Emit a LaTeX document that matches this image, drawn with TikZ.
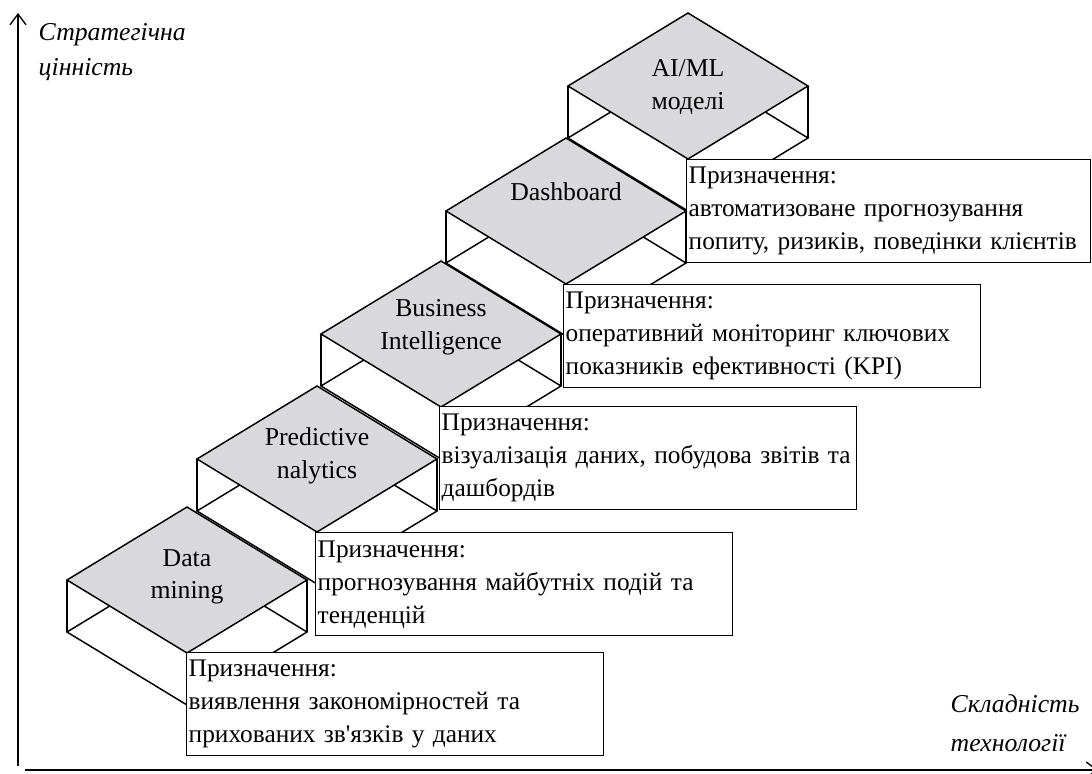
\documentclass[tikz,border=0pt]{standalone}
\usepackage{fontspec}
\setmainfont{Liberation Serif}
\usetikzlibrary{arrows.meta}
\definecolor{topgray}{RGB}{217,217,219}
\newcommand{\boxline}[1]{\mbox{#1}}
\begin{document}
\begin{tikzpicture}[x=0.75pt,y=-0.75pt,line width=1.1pt,
  sideline/.style={draw=black},
  topface/.style={draw=black,fill=topgray},
  steplabel/.style={font=\fontsize{19.3}{24.5}\selectfont,align=center,inner sep=0pt},
  infobox/.style={draw=black,fill=white,anchor=north west,font=\fontsize{19}{24.75}\selectfont,align=left,inner xsep=1.5pt,inner ysep=0pt,minimum height=77.25pt,text width=309.75pt},
  axislabel/.style={font=\fontsize{19.3}{24}\selectfont\itshape,anchor=base west,inner sep=0pt},
  axisline/.style={draw=black,line width=1pt,-{Straight Barb[length=8pt,width=12pt]}}]
\useasboundingbox (0,0) rectangle (1092,774);

% axes
\coordinate (yorig) at (18,766);
\coordinate (ytip) at (18,13);
\coordinate (xorig) at (25,770);
\coordinate (xtip) at (1098,770);
\draw[axisline] (yorig) -- (ytip);
\draw[axisline] (xorig) -- (xtip);
\node[axislabel] (ylab1) at (38,41) {Стратегічна};
\node[axislabel] (ylab2) at (38,76) {цінність};
\node[axislabel] (xlab1) at (950,712) {Складність};
\node[axislabel] (xlab2) at (950,751) {технології};

% step blocks: lower parts
\foreach \n/\cx/\cy in {5/688/86,4/566/211,3/441/334,2/317/459,1/187/580}{
  \coordinate (L\n) at (\cx-120,\cy);
  \coordinate (R\n) at (\cx+120,\cy);
  \coordinate (T\n) at (\cx,\cy-73);
  \coordinate (B\n) at (\cx,\cy+73);
  \coordinate (Ld\n) at (\cx-120,\cy+52);
  \coordinate (Rd\n) at (\cx+120,\cy+52);
  \coordinate (Td\n) at (\cx,\cy-21);
  \coordinate (Bd\n) at (\cx,\cy+125);
  \draw[sideline] (L\n) -- (Ld\n);
  \draw[sideline] (R\n) -- (Rd\n);
  \draw[sideline] (Ld\n) -- (Td\n) -- (Rd\n) -- (Bd\n) -- cycle;
}
% top faces
\foreach \n in {5,4,3,2,1}{
  \draw[topface] (L\n) -- (T\n) -- (R\n) -- (B\n) -- cycle;
}

% labels on top faces
\node[steplabel] (s1) at (187,577) {Data\\mining};
\node[steplabel] (s2) at (317,456) {Predictive\\nalytics};
\node[steplabel] (s3) at (441,327) {Business\\Intelligence};
\node[steplabel] (s4) at (566,192) {Dashboard};
\node[steplabel] (s5) at (688,87) {AI/ML\\моделі};

% info boxes
\node[infobox] (i1) at (186,652) {\boxline{Призначення:}\\\boxline{виявлення закономірностей та}\\\boxline{прихованих зв\textquotesingle язків у даних}};
\node[infobox] (i2) at (315,532) {\boxline{Призначення:}\\\boxline{прогнозування майбутніх подій та}\\\boxline{тенденцій}};
\node[infobox] (i3) at (439,406) {\boxline{Призначення:}\\\boxline{візуалізація даних, побудова звітів та}\\\boxline{дашбордів}};
\node[infobox] (i4) at (563,284) {\boxline{Призначення:}\\\boxline{оперативний моніторинг ключових}\\\boxline{показників ефективності (KPI)}};
\node[infobox,text width=300pt] (i5) at (686,159) {\boxline{Призначення:}\\\boxline{автоматизоване прогнозування}\\\boxline{попиту, ризиків, поведінки клієнтів}};
\end{tikzpicture}
\end{document}
